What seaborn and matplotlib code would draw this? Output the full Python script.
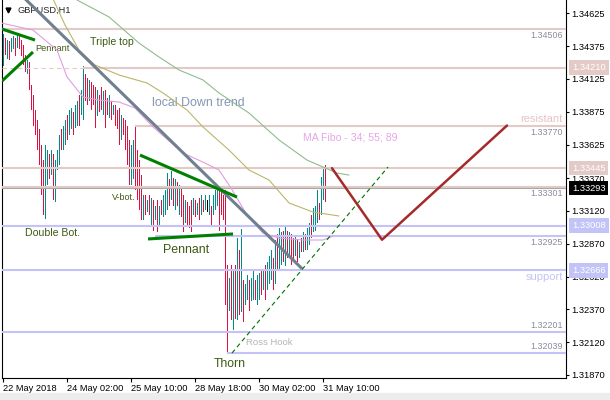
import matplotlib
matplotlib.use("Agg")
import matplotlib.pyplot as plt
import matplotlib.transforms as mtransforms
from matplotlib.patches import Rectangle
import numpy as np
import pandas as pd
import seaborn as sns

# =========================
# DATA (GBPUSD H1)
# =========================

highs = [
    1.3447, 1.3444, 1.3442, 1.3441, 1.3444, 1.3445, 1.3444, 1.3446, 1.3445, 1.3442,
    1.3438, 1.3431, 1.3427, 1.3425, 1.3408, 1.3400, 1.3389, 1.3381, 1.3374, 1.3362,
    1.3351, 1.3362, 1.3358, 1.3355, 1.3358, 1.3355, 1.3351, 1.3358, 1.3370, 1.3374,
    1.3377, 1.3381, 1.3385, 1.3389, 1.3390, 1.3387, 1.3393, 1.3396, 1.3400, 1.3404,
    1.3422, 1.3416, 1.3413, 1.3412, 1.3410, 1.3408, 1.3406, 1.3404, 1.3400, 1.3406,
    1.3403, 1.3404, 1.3398, 1.3400, 1.3396, 1.3393, 1.3393, 1.3389, 1.3390, 1.3385,
    1.3383, 1.3381, 1.3377, 1.3366, 1.3362, 1.3366, 1.3377, 1.3358, 1.3351, 1.3339,
    1.3324, 1.3324, 1.3320, 1.3324, 1.3322, 1.3320, 1.3316, 1.3320, 1.3316, 1.3320,
    1.3324, 1.3328, 1.3341, 1.3336, 1.3342, 1.3337, 1.3336, 1.3334, 1.3332, 1.3329,
    1.3324, 1.3320, 1.3319, 1.3316, 1.3320, 1.3322, 1.3320, 1.3318, 1.3322, 1.3324,
    1.3320, 1.3324, 1.3320, 1.3324, 1.3316, 1.3324, 1.3328, 1.3332, 1.3328, 1.3328,
    1.3324, 1.3328, 1.3271, 1.3261, 1.3271, 1.3267, 1.3271, 1.3291, 1.3282, 1.3298,
    1.3259, 1.3256, 1.3263, 1.3259, 1.3261, 1.3267, 1.3259, 1.3263, 1.3265, 1.3267,
    1.3268, 1.3271, 1.3273, 1.3278, 1.3282, 1.3276, 1.3290, 1.3294, 1.3299, 1.3296,
    1.3297, 1.3300, 1.3297, 1.3296, 1.3294, 1.3291, 1.3293, 1.3290, 1.3288, 1.3291,
    1.3296, 1.3294, 1.3299, 1.3303, 1.3309, 1.3314, 1.3316, 1.3328, 1.3318, 1.3338,
    1.3345, 1.3347,
]

lows = [
    1.3422, 1.3431, 1.3428, 1.3427, 1.3433, 1.3435, 1.3430, 1.3436, 1.3435, 1.3430,
    1.3423, 1.3418, 1.3416, 1.3404, 1.3389, 1.3377, 1.3370, 1.3358, 1.3347, 1.3324,
    1.3309, 1.3306, 1.3332, 1.3336, 1.3339, 1.3320, 1.3319, 1.3343, 1.3347, 1.3358,
    1.3358, 1.3362, 1.3366, 1.3370, 1.3374, 1.3370, 1.3375, 1.3377, 1.3377, 1.3385,
    1.3381, 1.3396, 1.3393, 1.3396, 1.3389, 1.3393, 1.3375, 1.3384, 1.3387, 1.3389,
    1.3385, 1.3375, 1.3385, 1.3383, 1.3381, 1.3385, 1.3377, 1.3374, 1.3362, 1.3366,
    1.3370, 1.3358, 1.3347, 1.3332, 1.3332, 1.3336, 1.3328, 1.3320, 1.3313, 1.3305,
    1.3305, 1.3309, 1.3311, 1.3309, 1.3301, 1.3297, 1.3305, 1.3296, 1.3301, 1.3309,
    1.3307, 1.3309, 1.3313, 1.3316, 1.3320, 1.3316, 1.3313, 1.3316, 1.3309, 1.3307,
    1.3296, 1.3303, 1.3301, 1.3299, 1.3296, 1.3309, 1.3307, 1.3309, 1.3305, 1.3309,
    1.3311, 1.3313, 1.3311, 1.3309, 1.3301, 1.3309, 1.3313, 1.3316, 1.3297, 1.3309,
    1.3305, 1.3240, 1.3204, 1.3236, 1.3229, 1.3221, 1.3230, 1.3229, 1.3233, 1.3235,
    1.3227, 1.3240, 1.3244, 1.3236, 1.3243, 1.3244, 1.3244, 1.3240, 1.3244, 1.3248,
    1.3252, 1.3244, 1.3252, 1.3256, 1.3259, 1.3252, 1.3256, 1.3267, 1.3268, 1.3271,
    1.3273, 1.3270, 1.3276, 1.3276, 1.3271, 1.3274, 1.3278, 1.3273, 1.3276, 1.3281,
    1.3281, 1.3282, 1.3282, 1.3286, 1.3291, 1.3296, 1.3297, 1.3303, 1.3305, 1.3309,
    1.3320, 1.3319,
]

# t = bull bar, r = bear bar, k = doji
bar_dir = list(
    "trtrttrtrr" "rrtrrrrrrr" "rttrtrtttr" "ttrttrttrt" "trrtrrrtrr"
    "trrtrtrrrt" "rrrrttrrrr" "trtrtrtrtr" "tttrtrtrtr" "rtrrrtrtrt"
    "rtktrtttrr" "rrrtrtrtrt" "rttrttrttr" "trtttrtrtt" "rtrtrrtrtr"
    "trttrtttrt" "tr"
)

# moving averages (bar index, price) - MA Fibo 34 / 55 / 89
ma34_bar = [-1, 15, 27, 32, 40, 48, 58, 66, 75, 90, 101, 108, 114, 122, 130, 138, 150, 160, 165]
ma34_val = [1.34551, 1.34497, 1.34345, 1.34140, 1.33987, 1.33964, 1.33949, 1.33903, 1.33759,
            1.33561, 1.33484, 1.33431, 1.33294, 1.33088, 1.32951, 1.32913, 1.32898, 1.32898, 1.32928]
ma55_bar = [23, 31, 38, 46, 58, 72, 80, 92, 100, 113, 123, 133, 143, 155, 168]
ma55_val = [1.34802, 1.34536, 1.34345, 1.34231, 1.34155, 1.34094, 1.34018, 1.33888, 1.33759,
            1.33583, 1.33431, 1.33355, 1.33180, 1.33111, 1.33081]
ma89_bar = [31, 37, 53, 68, 78, 88, 100, 108, 123, 138, 152, 160, 167, 173]
ma89_val = [1.34817, 1.34726, 1.34597, 1.34398, 1.34292, 1.34193, 1.34117, 1.34018, 1.33865,
            1.33660, 1.33507, 1.33454, 1.33408, 1.33393]

# horizontal levels: (price, first bar)
resist_levels = [1.34506, 1.34210, 1.33770, 1.33445, 1.33301]
resist_start = [-0.5, 40, 66, -0.5, -0.5]
support_levels = [1.33008, 1.32925, 1.32666, 1.32201, 1.32039]
support_start = [-0.5, 76, -0.5, -0.5, 112]
bid_price = 1.33293

# drawn trend lines (bar, price)
down_trend_bar = [8, 149.5]
down_trend_val = [1.3478, 1.3268]
pennant1_upper_bar, pennant1_upper_val = [-0.5, 16], [1.34505, 1.34421]
pennant1_lower_bar, pennant1_lower_val = [-0.5, 15], [1.34109, 1.34330]
pennant2_upper_bar, pennant2_upper_val = [68.5, 117], [1.33545, 1.33225]
pennant2_lower_bar, pennant2_lower_val = [72.5, 115], [1.32906, 1.32944]
ross_bar, ross_val = [114.5, 192.5], [1.32037, 1.33454]
forecast_bar = [164.5, 189.5, 252]
forecast_val = [1.33445, 1.32900, 1.33770]

# axes ticks
xtick_bars = [0, 32, 64, 96, 128, 160]
xtick_labels = ["22 May 2018", "24 May 02:00", "25 May 10:00", "28 May 18:00",
                "30 May 02:00", "31 May 10:00"]
ytick_vals = [1.34625, 1.34375, 1.34125, 1.33875, 1.33625, 1.33370,
              1.33120, 1.32870, 1.32620, 1.32370, 1.32120, 1.31870]

# =========================
# STYLE
# =========================

sns.set_style("white")
plt.rcParams["font.family"] = ["Liberation Sans", "DejaVu Sans"]

PINK = "#e3cac6"
LAVENDER = "#c3c3f7"
LBL_GREY = "#8a8a9c"
NOTE = "#3d5a14"
bar_colors = {"t": "#008b8b", "r": "#e0103e", "k": "#000000"}

fig = plt.figure(figsize=(6.1, 4.0), dpi=100)
ax = fig.add_axes([2 / 610, 22 / 400, 564 / 610, 378 / 400])
fig.patches.append(Rectangle((0, 0), 1, 7 / 400, transform=fig.transFigure,
                             color="#ececec", zorder=0))

ax.set_xlim(-0.5, 281.5)
ax.set_ylim(1.31847, 1.34726)

# =========================
# BARS (high-low lines, one pixel wide)
# =========================

x = np.arange(len(highs))
span = np.array(highs) - np.array(lows)
ax.bar(x, span, bottom=lows, width=0.5, color=[bar_colors[d] for d in bar_dir],
       linewidth=0, antialiased=False, zorder=2)

# =========================
# LEVELS
# =========================

x_end = 281.5
for p, s in zip(resist_levels, resist_start):
    ax.hlines(p, s, x_end, color=PINK, linewidth=1.5, zorder=3)
# left part of the 1.34210 level is dashed
ax.hlines(1.34210, -0.5, 40, color=PINK, linewidth=0.8, linestyles=(0, (4, 3)), zorder=3)
for p, s in zip(support_levels, support_start):
    ax.hlines(p, s, x_end, color=LAVENDER, linewidth=1.5, zorder=3)
ax.axhline(bid_price, color="#a8a8a8", linewidth=0.8, zorder=3)

# =========================
# MOVING AVERAGES
# =========================

ma = pd.DataFrame({"bar": ma34_bar, "val": ma34_val})
sns.lineplot(data=ma, x="bar", y="val", ax=ax, color="#e09ee0", linewidth=0.8, zorder=4)
ma = pd.DataFrame({"bar": ma55_bar, "val": ma55_val})
sns.lineplot(data=ma, x="bar", y="val", ax=ax, color="#bdb56a", linewidth=0.8, zorder=4)
ma = pd.DataFrame({"bar": ma89_bar, "val": ma89_val})
sns.lineplot(data=ma, x="bar", y="val", ax=ax, color="#8fbc8f", linewidth=0.8, zorder=4)

# =========================
# TREND LINES
# =========================

ax.plot(down_trend_bar, down_trend_val, color="#708090", linewidth=2.2,
        solid_capstyle="butt", zorder=5)
for bx, by in [(pennant1_upper_bar, pennant1_upper_val), (pennant1_lower_bar, pennant1_lower_val),
               (pennant2_upper_bar, pennant2_upper_val), (pennant2_lower_bar, pennant2_lower_val)]:
    ax.plot(bx, by, color="#008000", linewidth=2.2, solid_capstyle="butt", zorder=5)
ax.plot(ross_bar, ross_val, color="#007000", linewidth=0.8, dashes=(4, 3), zorder=5)
ax.plot(forecast_bar, forecast_val, color="#a52a2a", linewidth=1.8, zorder=6)

# =========================
# TEXT NOTES
# =========================

ax.text(43.5, 1.34406, "Triple top", color=NOTE, fontsize=7.6, va="center")
ax.text(16, 1.34353, "Pennant", color=NOTE, fontsize=6.6, va="center")
ax.text(74.5, 1.33942, "local Down trend", color="#8496b4", fontsize=8.9, va="center")
ax.text(150, 1.33675, "MA Fibo - 34; 55; 89", color="#e6a6e6", fontsize=7.6, va="center")
ax.text(54.5, 1.33225, "V-bot.", color=NOTE, fontsize=6.5, va="center")
ax.text(11, 1.32951, "Double Bot.", color=NOTE, fontsize=7.6, va="center")
ax.text(80, 1.32822, "Pennant", color=NOTE, fontsize=8.9, va="center")
ax.text(105.5, 1.31953, "Thorn", color=NOTE, fontsize=8.8, va="center")
ax.text(121.5, 1.32121, "Ross Hook", color="#b4b4b4", fontsize=6.8, va="center")

ax.text(0.0266, 0.972, "GBPUSD,H1", transform=ax.transAxes, fontsize=6.7, va="center")
ax.plot([0.0115], [0.973], marker="v", color="black", markersize=3.5,
        transform=ax.transAxes, clip_on=False)

# level captions at the right edge
blend = mtransforms.blended_transform_factory(ax.transAxes, ax.transData)
captions = [
    ("1.34506", 1.34506, -2, "top", LBL_GREY, 6.4),
    ("1.33770", 1.33770, -2, "top", LBL_GREY, 6.4),
    ("resistant", 1.33770, 2, "bottom", "#e6c3c3", 8.0),
    ("1.33301", 1.33301, -2, "top", LBL_GREY, 6.4),
    ("1.32925", 1.32925, -2, "top", LBL_GREY, 6.4),
    ("support", 1.32666, -2, "top", LAVENDER, 8.0),
    ("1.32201", 1.32201, 2, "bottom", LBL_GREY, 6.4),
    ("1.32039", 1.32039, 2, "bottom", LBL_GREY, 6.4),
]
for txt, p, dy, va, col, fs in captions:
    ax.annotate(txt, xy=(0.9945, p), xycoords=blend, xytext=(0, dy),
                textcoords="offset pixels", ha="right", va=va, color=col, fontsize=fs)

# price boxes on the right axis
price_boxes = [(1.34210, PINK, "white"), (1.33445, PINK, "white"),
               (1.33293, "black", "white"), (1.33008, LAVENDER, "white"),
               (1.32666, LAVENDER, "white")]
for p, bg, fg in price_boxes:
    ax.annotate(f"{p:.5f}", xy=(1.0, p), xycoords=blend, xytext=(6, 0),
                textcoords="offset pixels", ha="left", va="center", color=fg,
                fontsize=6.7, zorder=10, annotation_clip=False,
                bbox=dict(boxstyle="square,pad=0.3", fc=bg, ec="none"))

# =========================
# AXES
# =========================

ax.yaxis.tick_right()
ax.set_yticks(ytick_vals, labels=[f"{v:.5f}" for v in ytick_vals])
ax.set_xticks(xtick_bars, labels=xtick_labels)
for lbl in ax.get_xticklabels():
    lbl.set_horizontalalignment("left")
ax.tick_params(axis="y", right=True, left=False, direction="out", length=2.5,
               width=0.8, pad=1.5, labelsize=6.7, colors="black")
ax.tick_params(axis="x", bottom=True, direction="out", length=3, width=0.8,
               pad=1, labelsize=6.7, colors="black")
ax.set_xlabel("")
ax.set_ylabel("")
ax.spines["top"].set_visible(False)
for side in ["left", "right", "bottom"]:
    ax.spines[side].set_color("black")
    ax.spines[side].set_linewidth(0.8)

fig.savefig("out.png", dpi=100)
